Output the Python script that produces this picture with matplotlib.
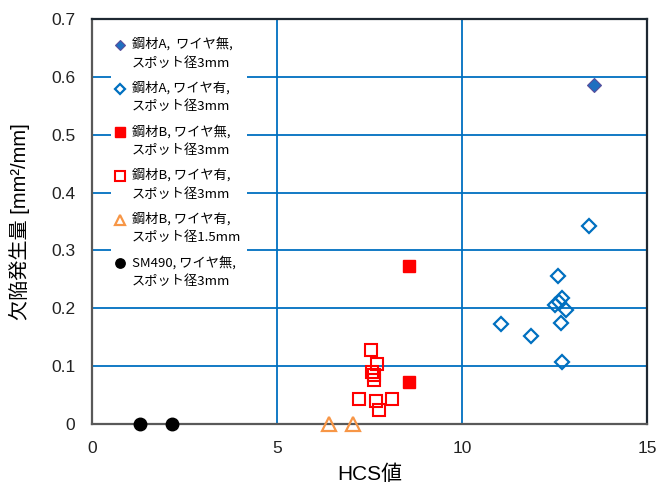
import matplotlib.pyplot as plt
from matplotlib.lines import Line2D
from matplotlib.legend_handler import HandlerLine2D
from matplotlib.ticker import MultipleLocator

plt.rcParams['font.family'] = ['Liberation Sans', 'Noto Sans CJK JP', 'DejaVu Sans']

# 鋼材A, ワイヤ無, スポット径3mm
a_nowire_x = [13.57]
a_nowire_y = [0.586]
# 鋼材A, ワイヤ有, スポット径3mm
a_wire_x = [13.44, 12.60, 12.69, 12.51, 12.62, 12.81, 11.05, 11.86, 12.67, 12.70]
a_wire_y = [0.343, 0.256, 0.218, 0.206, 0.211, 0.197, 0.173, 0.152, 0.174, 0.108]
# 鋼材B, ワイヤ無, スポット径3mm
b_nowire_x = [8.56, 8.56]
b_nowire_y = [0.273, 0.073]
# 鋼材B, ワイヤ有, スポット径3mm
b_wire_x = [7.55, 7.69, 7.57, 7.62, 7.62, 7.21, 7.68, 8.11, 7.76]
b_wire_y = [0.128, 0.103, 0.090, 0.085, 0.076, 0.043, 0.040, 0.043, 0.025]
# 鋼材B, ワイヤ有, スポット径1.5mm
b_wire15_x = [6.41, 7.06]
b_wire15_y = [0.0, 0.0]
# SM490, ワイヤ無, スポット径3mm
sm490_x = [1.30, 2.17]
sm490_y = [0.0, 0.0]

labels = [
    '鋼材A,  ワイヤ無,\nスポット径3mm',
    '鋼材A, ワイヤ有,\nスポット径3mm',
    '鋼材B, ワイヤ無,\nスポット径3mm',
    '鋼材B, ワイヤ有,\nスポット径3mm',
    '鋼材B, ワイヤ有,\nスポット径1.5mm',
    'SM490, ワイヤ無,\nスポット径3mm',
]


class FirstLineHandler(HandlerLine2D):
    # put the legend marker next to the first line of a two-line label
    def create_artists(self, legend, orig_handle, xdescent, ydescent,
                       width, height, fontsize, trans):
        arts = super().create_artists(legend, orig_handle, xdescent, ydescent,
                                      width, height, fontsize, trans)
        for a in arts:
            a.set_ydata([y + 0.68 * fontsize for y in a.get_ydata()])
        return arts


fig = plt.figure(figsize=(6.59, 4.86), dpi=100)
ax = fig.add_axes([92 / 659, 1 - 424 / 486, (647 - 92) / 659, (424 - 19) / 486])

blue = '#0070C0'
ax.plot(a_nowire_x, a_nowire_y, 'D', ms=7, color='#1F6FC0', mec='#5A4E9A', mew=0.8,
        label=labels[0], clip_on=False, zorder=3)
ax.plot(a_wire_x, a_wire_y, 'D', ms=7, mfc='none', mec=blue, mew=1.6,
        label=labels[1], clip_on=False, zorder=3)
ax.plot(b_nowire_x, b_nowire_y, 's', ms=9, color='#FF0000', mec='#FF0000',
        label=labels[2], clip_on=False, zorder=3)
ax.plot(b_wire_x, b_wire_y, 's', ms=9, mfc='none', mec='#FF0000', mew=1.5,
        label=labels[3], clip_on=False, zorder=3)
ax.plot(b_wire15_x, b_wire15_y, '^', ms=10, mfc='none', mec='#F79646', mew=1.6,
        label=labels[4], clip_on=False, zorder=3)
ax.plot(sm490_x, sm490_y, 'o', ms=9, color='black',
        label=labels[5], clip_on=False, zorder=3)

ax.set_xlim(0, 15)
ax.set_ylim(0, 0.7)
ax.xaxis.set_major_locator(MultipleLocator(5))
ax.yaxis.set_major_locator(MultipleLocator(0.1))
ax.yaxis.set_major_formatter(lambda v, p: '0' if abs(v) < 1e-9 else f'{v:.1f}')
ax.tick_params(length=0, labelsize=12.5, colors='#222222', pad=12)

ax.grid(True, color=blue, lw=1.3)
ax.set_axisbelow(True)

for side in ('left', 'bottom'):
    ax.spines[side].set_color('#595959')
    ax.spines[side].set_linewidth(1.6)
for side in ('top', 'right'):
    ax.spines[side].set_color('#1E2832')
    ax.spines[side].set_linewidth(1.6)

ax.set_xlabel('HCS値', fontsize=15)
ax.set_ylabel('欠陥発生量 [mm²/mm]', fontsize=14.5)
ax.xaxis.set_label_coords(0.5, -0.1)
ax.yaxis.set_label_coords(-0.111, 0.5)

leg = ax.legend(loc='upper left', bbox_to_anchor=(0.022, 0.985), frameon=True,
                fancybox=False, framealpha=1, edgecolor='none',
                prop={'family': ['Noto Sans CJK JP'], 'size': 9.5},
                handlelength=0.6, handletextpad=0.6, labelspacing=0.85,
                borderpad=0.4, markerscale=0.75,
                handler_map={Line2D: FirstLineHandler()})
for t in leg.get_texts():
    t.set_linespacing(1.6)

fig.savefig('out.png', dpi=100)
